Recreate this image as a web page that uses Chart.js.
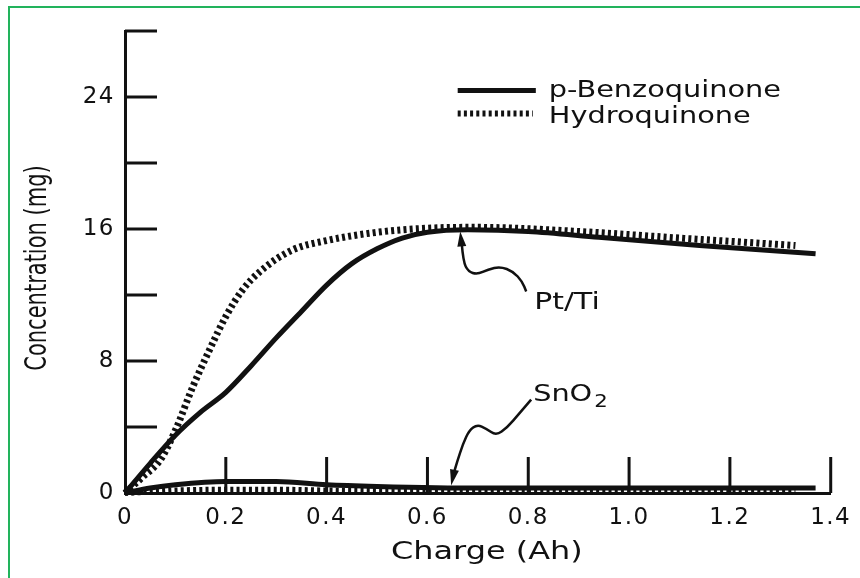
<!DOCTYPE html>
<html>
<head>
<meta charset="utf-8">
<script src="https://cdn.jsdelivr.net/npm/chart.js@4"></script>
<style>
html,body{margin:0;padding:0;background:#fff;}
#wrap{position:relative;width:860px;height:578px;}
</style>
</head>
<body>
<div id="wrap"><canvas id="c" width="860" height="578"></canvas></div>
<script>
// ---- data ----
const ptBenzoX = [0, 0.05, 0.1, 0.15, 0.2, 0.25, 0.3, 0.35, 0.4, 0.45, 0.5, 0.55, 0.6, 0.68, 0.8, 0.94, 1.14, 1.37];
const ptBenzoY = [0, 1.8, 3.5, 4.9, 6.1, 7.7, 9.4, 11.0, 12.6, 13.9, 14.8, 15.45, 15.8, 15.95, 15.85, 15.5, 15.0, 14.5];

const ptHydroX = [0, 0.036, 0.07, 0.1, 0.134, 0.168, 0.2, 0.233, 0.267, 0.33, 0.4, 0.5, 0.6, 0.7, 0.9, 1.1, 1.33];
const ptHydroY = [0, 1.0, 2.0, 3.8, 6.4, 8.7, 10.7, 12.3, 13.4, 14.7, 15.3, 15.8, 16.05, 16.1, 15.85, 15.45, 15.0];

const snBenzoX = [0, 0.05, 0.1, 0.2, 0.3, 0.4, 0.5, 0.7, 1.0, 1.37];
const snBenzoY = [0, 0.3, 0.5, 0.7, 0.7, 0.5, 0.4, 0.3, 0.3, 0.3];

const snHydroX = [0, 0.1, 0.2, 0.3, 0.4, 0.6, 1.0, 1.33];
const snHydroY = [0, 0.15, 0.2, 0.2, 0.15, 0.1, 0.1, 0.1];

const seriesNames = ['p-Benzoquinone', 'Hydroquinone'];
const electrodeNames = ['Pt/Ti', 'SnO', '2'];

const xTickValues = [0, 0.2, 0.4, 0.6, 0.8, 1.0, 1.2, 1.4];
const xTickLabels = ['0', '0.2', '0.4', '0.6', '0.8', '1.0', '1.2', '1.4'];
const yTickValues = [0, 8, 16, 24];
const yTickLabels = ['0', '8', '16', '24'];
const yTickMarks = [4, 8, 12, 16, 20, 24, 28];
const xTickMarks = [0.2, 0.4, 0.6, 0.8, 1.0, 1.2, 1.4];

const xTitle = 'Charge (Ah)';
const yTitle = 'Concentration (mg)';

const pts = (xs, ys) => xs.map((x, i) => ({x: x, y: ys[i]}));

const FONT = 'DejaVu Sans';
const INK = '#111';
const HATCH = [3, 3.2];

function stretchedText(ctx, text, x, y, size, sx, align) {
  ctx.save();
  ctx.letterSpacing = '0px';
  ctx.font = size + 'px "' + FONT + '"';
  ctx.fillStyle = INK;
  ctx.textBaseline = 'middle';
  ctx.textAlign = align || 'left';
  ctx.translate(x, y);
  ctx.scale(sx, 1);
  ctx.fillText(text, 0, 0);
  const w = ctx.measureText(text).width * sx;
  ctx.restore();
  return w;
}

function smoothPath(ctx, p) {
  ctx.beginPath();
  ctx.moveTo(p[0][0], p[0][1]);
  for (let i = 1; i < p.length - 1; i++) {
    const mx = (p[i][0] + p[i + 1][0]) / 2, my = (p[i][1] + p[i + 1][1]) / 2;
    ctx.quadraticCurveTo(p[i][0], p[i][1], mx, my);
  }
  ctx.lineTo(p[p.length - 1][0], p[p.length - 1][1]);
  ctx.stroke();
}

function arrowHead(ctx, tip, from, len, half) {
  const dx = tip[0] - from[0], dy = tip[1] - from[1];
  const d = Math.hypot(dx, dy), ux = dx / d, uy = dy / d;
  const bx = tip[0] - ux * len, by = tip[1] - uy * len;
  ctx.beginPath();
  ctx.moveTo(tip[0], tip[1]);
  ctx.lineTo(bx - uy * half, by + ux * half);
  ctx.lineTo(bx + uy * half, by - ux * half);
  ctx.closePath();
  ctx.fill();
}

const decor = {
  id: 'decor',
  beforeDraw(chart) {
    const ctx = chart.ctx;
    ctx.save();
    ctx.fillStyle = '#fff';
    ctx.fillRect(0, 0, chart.width, chart.height);
    ctx.fillStyle = '#22b35c';
    ctx.fillRect(8, 6, chart.width - 8, 2);
    ctx.fillRect(8, 6, 2, chart.height - 6);
    ctx.restore();
    ctx.letterSpacing = '1.5px';
  },
  afterDraw(chart) {
    const ctx = chart.ctx;
    const xs = chart.scales.x, ys = chart.scales.y;
    const L = chart.chartArea.left, B = chart.chartArea.bottom;
    ctx.save();
    ctx.letterSpacing = '0px';
    ctx.strokeStyle = INK;
    ctx.fillStyle = INK;
    ctx.lineWidth = 3;
    ctx.lineCap = 'butt';
    // inward tick marks
    yTickMarks.forEach(v => {
      const py = ys.getPixelForValue(v);
      ctx.beginPath(); ctx.moveTo(L, py); ctx.lineTo(L + 32, py); ctx.stroke();
    });
    xTickMarks.forEach(v => {
      const px = xs.getPixelForValue(v);
      ctx.beginPath(); ctx.moveTo(px, B); ctx.lineTo(px, B - 36); ctx.stroke();
    });

    // axis titles
    stretchedText(ctx, xTitle, (L + chart.chartArea.right) / 2 + 9, 553, 24, 1.33, 'center');
    ctx.save();
    ctx.font = '21px "' + FONT + '"';
    ctx.fillStyle = INK;
    ctx.textAlign = 'center';
    ctx.textBaseline = 'middle';
    ctx.translate(38, 268);
    ctx.scale(1.4, 1);
    ctx.rotate(-Math.PI / 2);
    ctx.fillText(yTitle, 0, 0);
    ctx.restore();

    // legend
    const lx0 = xs.getPixelForValue(0.66), lx1 = xs.getPixelForValue(0.815);
    const ly0 = ys.getPixelForValue(24.4), ly1 = ys.getPixelForValue(23.0);
    ctx.lineWidth = 5;
    ctx.beginPath(); ctx.moveTo(lx0, ly0); ctx.lineTo(lx1, ly0); ctx.stroke();
    ctx.lineWidth = 6;
    ctx.setLineDash(HATCH);
    ctx.beginPath(); ctx.moveTo(lx0, ly1); ctx.lineTo(lx1 - 3, ly1); ctx.stroke();
    ctx.setLineDash([]);
    stretchedText(ctx, seriesNames[0], lx1 + 13, ly0 + 1, 23, 1.25, 'left');
    stretchedText(ctx, seriesNames[1], lx1 + 13, ly1 + 4, 23, 1.25, 'left');

    // Pt/Ti annotation (anchored at a curve point; wiggle offsets in px)
    const ax = xs.getPixelForValue(0.665), ay = ys.getPixelForValue(15.85);
    ctx.lineWidth = 2.5;
    const pPath = [[ax + 1.5, ay + 12], [ax + 3, ay + 30], [ax + 8, ay + 40], [ax + 17, ay + 43], [ax + 28, ay + 38],
                   [ax + 40, ay + 35], [ax + 53, ay + 40], [ax + 62, ay + 50], [ax + 66, ay + 60]];
    smoothPath(ctx, pPath);
    arrowHead(ctx, [ax, ay], [ax + 1.5, ay + 14], 15, 4.5);
    stretchedText(ctx, electrodeNames[0], ax + 74, ay + 72, 23, 1.3, 'left');

    // SnO2 annotation
    const bx = xs.getPixelForValue(0.647), by = ys.getPixelForValue(0.45);
    const sPath = [[bx + 80, by - 86], [bx + 68, by - 72], [bx + 56, by - 58], [bx + 45, by - 50], [bx + 35, by - 57],
                   [bx + 26, by - 61], [bx + 18, by - 55], [bx + 12, by - 42], [bx + 6, by - 24], [bx + 2, by - 10]];
    smoothPath(ctx, sPath);
    arrowHead(ctx, [bx, by], [bx + 3, by - 14], 16, 4.5);
    const w = stretchedText(ctx, electrodeNames[1], bx + 82, by - 91, 23, 1.25, 'left');
    stretchedText(ctx, electrodeNames[2], bx + 82 + w + 2, by - 83, 17, 1.25, 'left');
    ctx.restore();
  }
};

const ctx = document.getElementById('c').getContext('2d');
new Chart(ctx, {
  type: 'line',
  data: {
    datasets: [
      {label: seriesNames[1] + ' (Pt/Ti)', data: pts(ptHydroX, ptHydroY), borderColor: INK, borderWidth: 7,
       borderDash: HATCH, pointRadius: 0, cubicInterpolationMode: 'monotone', order: 2},
      {label: seriesNames[1] + ' (SnO2)', data: pts(snHydroX, snHydroY), borderColor: INK, borderWidth: 6,
       borderDash: HATCH, pointRadius: 0, cubicInterpolationMode: 'monotone', order: 2},
      {label: seriesNames[0] + ' (Pt/Ti)', data: pts(ptBenzoX, ptBenzoY), borderColor: INK, borderWidth: 5,
       pointRadius: 0, cubicInterpolationMode: 'monotone', order: 1},
      {label: seriesNames[0] + ' (SnO2)', data: pts(snBenzoX, snBenzoY), borderColor: INK, borderWidth: 5,
       pointRadius: 0, cubicInterpolationMode: 'monotone', order: 1}
    ]
  },
  options: {
    responsive: false,
    animation: false,
    devicePixelRatio: 1,
    clip: false,
    layout: {padding: {left: 0, top: 31, right: 27, bottom: 0}},
    plugins: {legend: {display: false}, tooltip: {enabled: false}},
    scales: {
      x: {
        type: 'linear', min: 0, max: 1.4,
        afterBuildTicks: s => { s.ticks = xTickValues.map(v => ({value: v})); },
        afterFit: s => { s.height = 85; },
        ticks: {
          callback: (v) => xTickLabels[xTickValues.findIndex(t => Math.abs(t - v) < 1e-6)],
          font: {family: FONT, size: 23}, color: INK, padding: 11, maxRotation: 0, autoSkip: false
        },
        grid: {display: false, drawTicks: false},
        border: {display: true, color: INK, width: 3}
      },
      y: {
        type: 'linear', min: 0, max: 28,
        afterBuildTicks: s => { s.ticks = yTickValues.map(v => ({value: v})); },
        afterFit: s => { s.width = 125; },
        ticks: {
          callback: (v) => yTickLabels[yTickValues.indexOf(v)],
          font: {family: FONT, size: 23}, color: INK, padding: 10
        },
        grid: {display: false, drawTicks: false},
        border: {display: true, color: INK, width: 3}
      }
    }
  },
  plugins: [decor]
});
</script>
</body>
</html>
